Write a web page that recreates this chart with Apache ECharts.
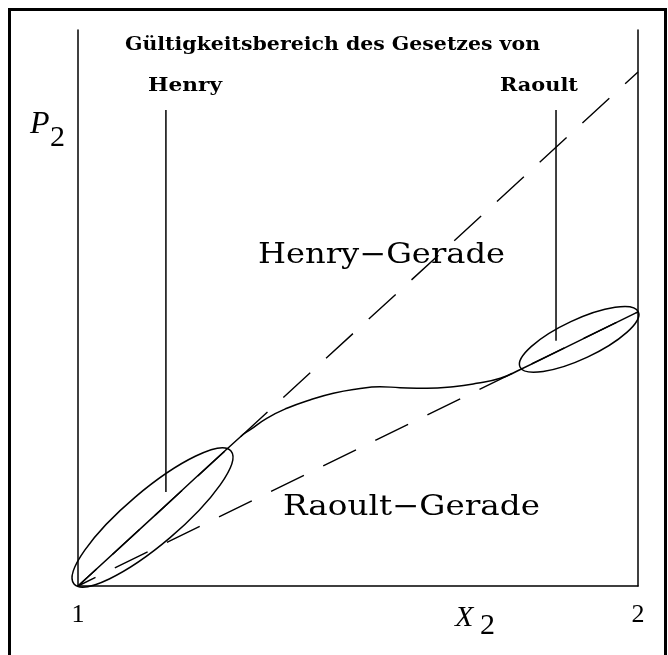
<!DOCTYPE html>
<html>
<head>
<meta charset="utf-8">
<script src="https://cdn.jsdelivr.net/npm/echarts@6/dist/echarts.min.js"></script>
<style>
  html, body { margin: 0; padding: 0; background: #fff; }
  #chart { width: 668px; height: 655px; }
</style>
</head>
<body>
<div id="chart"></div>
<script>
// Mole fraction axis: pure component 1 on the left, pure component 2 on the right
const xTickLabels = ['1', '2'];
const xRange = [1, 2];
const pRange = [0, 100];

// Limiting laws drawn as straight lines (partial pressure P2)
const henryLine = [[1, 0], [2, 92.45]];
const raoultLine = [[1, 0], [2, 49.3]];

// Real partial pressure curve of component 2
const realCurve = [
  [1, 0], [1.15, 13.87], [1.2946, 27.25], [1.307, 28.06], [1.337, 30.16],
  [1.373, 31.96], [1.414, 33.45], [1.456, 34.66], [1.498, 35.43],
  [1.539, 35.85], [1.575, 35.67], [1.623, 35.56], [1.670, 35.85],
  [1.712, 36.46], [1.754, 37.36], [1.789, 38.9], [1.9, 44.37], [2, 49.3]
];

// Ranges where each law holds: end points of the enclosing ellipse [x1, y1, x2, y2]
const henryZone = [0.9929, 0.36, 1.2732, 24.28];
const raoultZone = [1.7893, 39.39, 2.0005, 49.33];

// Pointer lines from the labels down into each range
const henryPointer = [[1.157, 85.6], [1.157, 16.9]];
const raoultPointer = [[1.8536, 85.6], [1.8536, 44.1]];

// Texts
const titleText = 'Gültigkeitsbereich des Gesetzes von';
const henryLabel = 'Henry';
const raoultLabel = 'Raoult';
const henryLineLabel = 'Henry\u2212Gerade';
const raoultLineLabel = 'Raoult\u2212Gerade';

// ---- drawing ----
const INK = '#000';
const zoneAspect = [0.26, 0.3];

const measureCtx = document.createElement('canvas').getContext('2d');
function fittedText(text, font, left, right, y) {
  measureCtx.font = font;
  const w = measureCtx.measureText(text).width;
  return {
    type: 'text', x: left, y: y, scaleX: (right - left) / w, silent: true,
    style: { text: text, font: font, fill: INK, align: 'left', verticalAlign: 'middle' }
  };
}
function plainText(text, font, left, y) {
  return {
    type: 'text', x: left, y: y, silent: true,
    style: { text: text, font: font, fill: INK, align: 'left', verticalAlign: 'middle' }
  };
}

const serif = '"DejaVu Serif"';
const mathFont = '"Liberation Serif"';

const chart = echarts.init(document.getElementById('chart'), null, { renderer: 'canvas' });

const dashed = (offset) => ({ color: INK, width: 1.4, type: [36.5, 21.5], dashOffset: offset });

chart.setOption({
  animation: false,
  backgroundColor: '#fff',
  grid: { left: 78, right: 30, top: 30, bottom: 69 },
  xAxis: {
    type: 'value', min: xRange[0], max: xRange[1], interval: 1,
    axisLine: { onZero: false, lineStyle: { color: INK, width: 1.5 } },
    axisTick: { show: false },
    splitLine: { show: false },
    axisLabel: {
      color: INK, fontFamily: mathFont, fontSize: 26, margin: 16,
      formatter: (v) => xTickLabels[Math.round(v - xRange[0])]
    }
  },
  yAxis: [
    {
      type: 'value', min: pRange[0], max: pRange[1], position: 'left',
      axisLine: { show: true, onZero: false, lineStyle: { color: INK, width: 1.5 } },
      axisTick: { show: false }, axisLabel: { show: false }, splitLine: { show: false }
    },
    {
      type: 'value', min: pRange[0], max: pRange[1], position: 'right',
      axisLine: { show: true, onZero: false, lineStyle: { color: INK, width: 1.5 } },
      axisTick: { show: false }, axisLabel: { show: false }, splitLine: { show: false }
    }
  ],
  series: [
    {
      name: 'Henry-Gerade', type: 'line', data: henryLine, symbol: 'none', silent: true,
      lineStyle: dashed(11.3)
    },
    {
      name: 'Raoult-Gerade', type: 'line', data: raoultLine, symbol: 'none', silent: true,
      lineStyle: dashed(17)
    },
    {
      name: 'P2', type: 'line', data: realCurve, symbol: 'none', silent: true,
      smooth: 0.5,
      lineStyle: { color: INK, width: 1.5 }
    },
    {
      name: 'Henry pointer', type: 'line', data: henryPointer, symbol: 'none', silent: true,
      lineStyle: { color: INK, width: 1.5 }
    },
    {
      name: 'Raoult pointer', type: 'line', data: raoultPointer, symbol: 'none', silent: true,
      lineStyle: { color: INK, width: 1.5 }
    },
    {
      name: 'ranges', type: 'custom', silent: true, clip: false,
      data: [henryZone, raoultZone],
      renderItem: (params, api) => {
        const p1 = api.coord([api.value(0), api.value(1)]);
        const p2 = api.coord([api.value(2), api.value(3)]);
        const dx = p2[0] - p1[0], dy = p2[1] - p1[1];
        const rx = Math.hypot(dx, dy) / 2;
        return {
          type: 'ellipse',
          x: (p1[0] + p2[0]) / 2, y: (p1[1] + p2[1]) / 2,
          rotation: -Math.atan2(dy, dx),
          shape: { cx: 0, cy: 0, rx: rx, ry: rx * zoneAspect[params.dataIndex] },
          style: { fill: 'none', stroke: INK, lineWidth: 1.5 }
        };
      }
    }
  ],
  graphic: [
    {
      type: 'rect', silent: true,
      shape: { x: 9.5, y: 9.5, width: 656, height: 700 },
      style: { fill: 'none', stroke: INK, lineWidth: 3 }
    },
    fittedText(titleText, 'bold 18px ' + serif, 125, 540, 45),
    fittedText(henryLabel, 'bold 18px ' + serif, 148, 222, 86),
    fittedText(raoultLabel, 'bold 18px ' + serif, 500, 578, 86),
    fittedText(henryLineLabel, '28px ' + serif, 258, 505, 256),
    fittedText(raoultLineLabel, '28px ' + serif, 283, 540, 508),
    plainText('P', 'italic 32px ' + mathFont, 30, 125),
    plainText('2', '30px ' + mathFont, 50, 138),
    plainText('X', 'italic 30px ' + mathFont, 455, 618),
    plainText('2', '30px ' + mathFont, 480, 626)
  ]
});
</script>
</body>
</html>
